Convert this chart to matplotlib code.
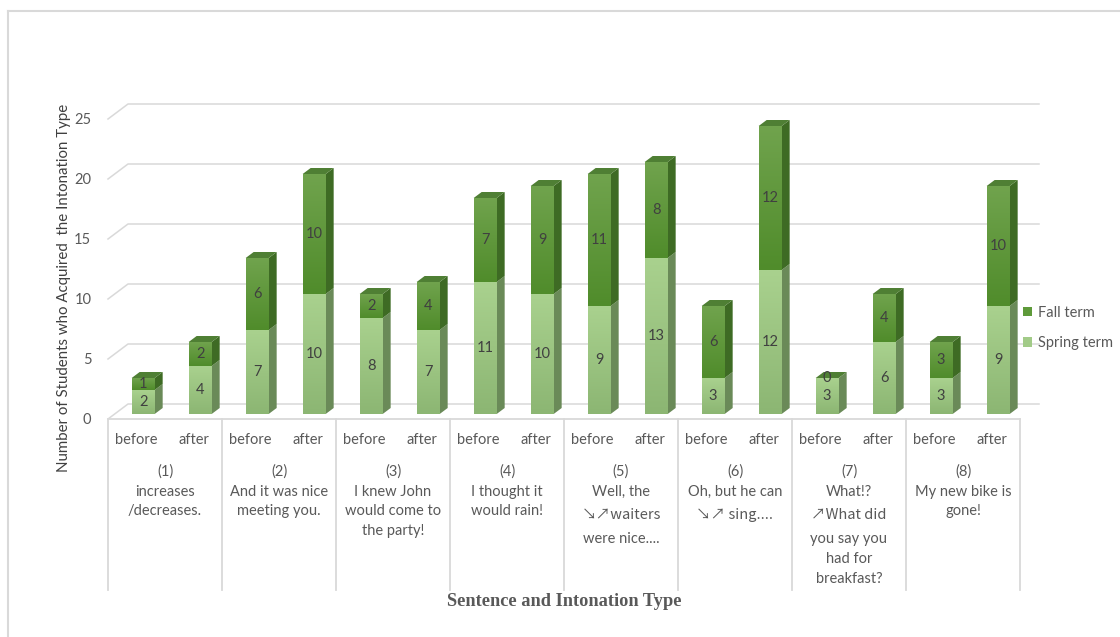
import numpy as np
import matplotlib
matplotlib.use("Agg")
import matplotlib.pyplot as plt
from matplotlib.patches import Polygon, Patch
from matplotlib.colors import LinearSegmentedColormap

# data
groups = [
    ["(1)", "increases", "/decreases."],
    ["(2)", "And it was nice", "meeting you."],
    ["(3)", "I knew John", "would come to", "the party!"],
    ["(4)", "I thought it", "would rain!"],
    ["(5)", "Well, the", "\u2198\u2197waiters", "were nice...."],
    ["(6)", "Oh, but he can", "\u2198\u2197 sing...."],
    ["(7)", "What!?", "\u2197What did", "you say you", "had for", "breakfast?"],
    ["(8)", "My new bike is", "gone!"],
]
phases = ["before", "after"]
spring = [2, 4, 7, 10, 8, 7, 11, 10, 9, 13, 3, 12, 3, 6, 3, 9]
fall = [1, 2, 6, 10, 2, 4, 7, 9, 11, 8, 6, 12, 0, 4, 3, 10]
yticks = [0, 5, 10, 15, 20, 25]

FONT = ["Lato", "Noto Sans CJK JP", "DejaVu Sans"]
ARROW_FONT = ["Noto Sans CJK JP", "Lato", "DejaVu Sans"]
GREY = "#595959"
GRID = "#d9d9d9"

W_PX, H_PX = 1120, 637
fig = plt.figure(figsize=(W_PX / 100, H_PX / 100), dpi=100)

# px helpers: slot 57 px wide, 12 px per unit, front zero at y=419
SLOT, UNIT, Y0, X0 = 57.0, 12.0, 419.0, 108.0
top_px, bot_px, right_px = 60.0, 590.0, 1048.5
ax = fig.add_axes([X0 / W_PX, 1 - bot_px / H_PX,
                   (right_px - X0) / W_PX, (bot_px - top_px) / H_PX])
ax.set_xlim(-0.5, (right_px - X0) / SLOT - 0.5)
ax.set_ylim(-(bot_px - Y0) / UNIT, (Y0 - top_px) / UNIT)
ax.axis("off")

DX, DY = 20 / SLOT, 15 / UNIT      # floor depth
BX, BY = 8 / SLOT, 6 / UNIT        # bar depth
OX, OY = DX / 3, DY / 3            # bar front plane
BW = 23 / SLOT
x_end = (1039 - X0) / SLOT - 0.5

# walls / gridlines
for v in yticks:
    ax.plot([-0.5, -0.5 + DX, x_end], [v, v + DY, v + DY], color=GRID, lw=1.1, zorder=0,
            clip_on=False)
    ax.annotate(str(v), (-0.5, v), xytext=(-12, -1), textcoords="offset points",
                ha="right", va="center", fontsize=10.5, color=GREY, family=FONT,
                annotation_clip=False)

# category table
n = len(spring)
ax.plot([-0.5, n - 0.5], [0, 0], color=GRID, lw=1.3, zorder=0)
for k in range(len(groups) + 1):
    ax.plot([-0.5 + 2 * k] * 2, [0, ax.get_ylim()[0]], color=GRID, lw=1.3, zorder=0,
            clip_on=False)

for i in range(n):
    ax.text(i, (Y0 - 440) / UNIT, phases[i % 2], ha="center", va="center",
            fontsize=10.5, color=GREY, family=FONT)

for g, lines in enumerate(groups):
    py = 472.0
    prev_arrow = False
    for j, line in enumerate(lines):
        arrow = "\u2197" in line or "\u2198" in line
        if j > 0:
            py += 19.7 + (4 if (arrow or prev_arrow) else 0)
        ax.text(2 * g + 0.5, (Y0 - py) / UNIT, line, ha="center", va="center",
                fontsize=10.5, color=GREY, family=ARROW_FONT if arrow else FONT)
        prev_arrow = arrow

# bars
x = np.arange(n) + OX
spring_cm = LinearSegmentedColormap.from_list("sp", ["#a9d18e", "#8cb673"])
fall_cm = LinearSegmentedColormap.from_list("fa", ["#70a34d", "#508c2b"])
grad = np.linspace(0, 1, 64).reshape(-1, 1)

sp_bars = ax.bar(x, spring, BW, bottom=OY, color="#9fc886", lw=0, zorder=2)
fa_bars = ax.bar(x, fall, BW, bottom=OY + np.array(spring), color="#5e9a3a", lw=0, zorder=2)

for bars, cm, side_c in [(sp_bars, spring_cm, "#6a8a58"), (fa_bars, fall_cm, "#3e6b24")]:
    for p in bars:
        x0, y0 = p.get_x(), p.get_y()
        w, h = p.get_width(), p.get_height()
        if h <= 0:
            continue
        im = ax.imshow(grad, extent=[x0, x0 + w, y0, y0 + h], cmap=cm, aspect="auto",
                       origin="upper", zorder=2.1, interpolation="bilinear")
        im.set_clip_path(p)
        xr = x0 + w
        ax.add_patch(Polygon([(xr, y0), (xr + BX, y0 + BY), (xr + BX, y0 + h + BY),
                              (xr, y0 + h)], closed=True, fc=side_c, lw=0, zorder=2))

for p in fa_bars:
    x0, yt, w = p.get_x(), p.get_y() + p.get_height(), p.get_width()
    ax.add_patch(Polygon([(x0, yt), (x0 + BX, yt + BY), (x0 + w + BX, yt + BY), (x0 + w, yt)],
                         closed=True, fc="#4f7f34", lw=0, zorder=2))

ax.set_xlim(-0.5, (right_px - X0) / SLOT - 0.5)
ax.set_ylim(-(bot_px - Y0) / UNIT, (Y0 - top_px) / UNIT)

for bars, vals in [(sp_bars, spring), (fa_bars, fall)]:
    for p, v in zip(bars, vals):
        ax.text(p.get_x() + p.get_width() / 2, p.get_y() + p.get_height() / 2, str(v),
                ha="center", va="center", fontsize=10.5, color="#404040", family=FONT,
                zorder=5)

# axis titles
fig.text(64 / W_PX, 1 - 288 / H_PX, "Number of Students who Acquired  the Intonation Type",
         rotation=90, ha="center", va="center", fontsize=10.8, color="#404040", family=FONT)
fig.text(564 / W_PX, 1 - 602 / H_PX, "Sentence and Intonation Type", ha="center",
         va="center", fontsize=13.2, fontweight="bold", color=GREY,
         family="Liberation Serif")

# legend
handles = [Patch(fc="#5e9a3a"), Patch(fc="#a2cb88")]
leg = fig.legend(handles, ["Fall term", "Spring term"], loc="center left",
                 bbox_to_anchor=(1010 / W_PX, 1 - 328 / H_PX), frameon=False,
                 handlelength=0.6, handleheight=0.6, handletextpad=0.4, labelspacing=1.1,
                 prop={"family": FONT, "size": 10.5})
for t in leg.get_texts():
    t.set_color(GREY)

# chart border
fig.add_artist(plt.Line2D([8 / W_PX, 1], [1 - 11 / H_PX] * 2, color=GRID, lw=1.5))
fig.add_artist(plt.Line2D([8 / W_PX] * 2, [0, 1 - 11 / H_PX], color=GRID, lw=1.5))

fig.savefig("out.png", dpi=100, facecolor="white")
